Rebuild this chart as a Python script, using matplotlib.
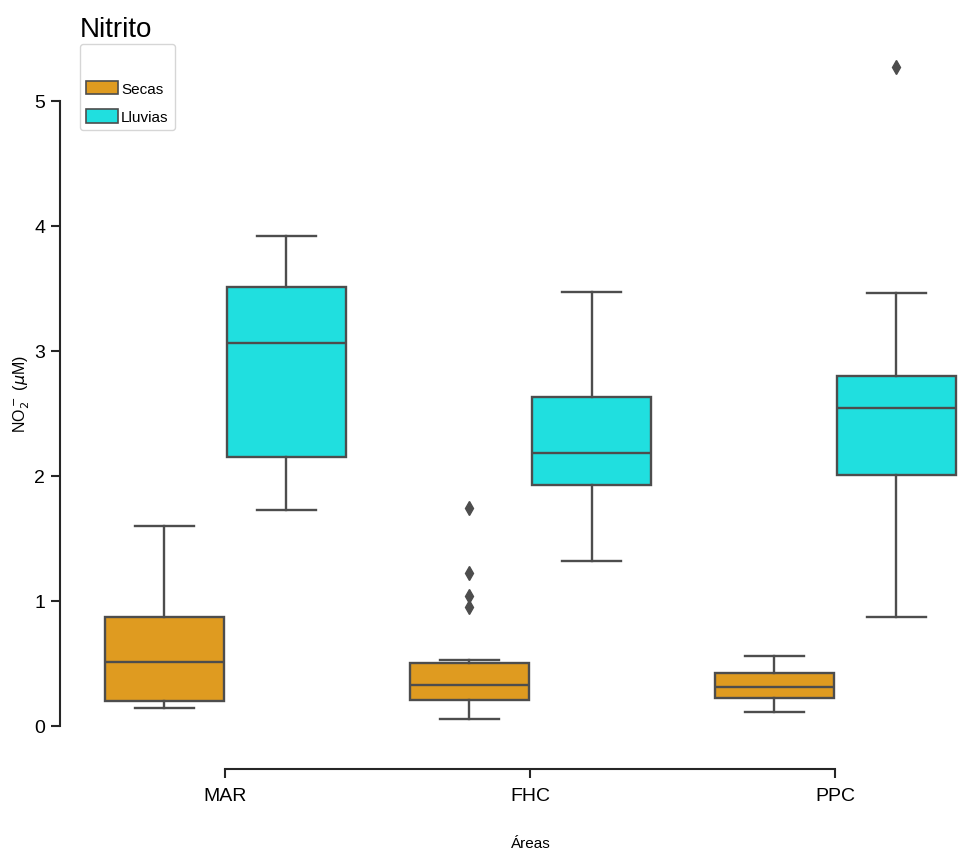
import matplotlib.pyplot as plt
from matplotlib.patches import Patch

plt.rcParams['font.family'] = ['Liberation Sans', 'DejaVu Sans']

areas = ['MAR', 'FHC', 'PPC']
temporadas = ['Secas', 'Lluvias']
colores = ['#DF9B20', '#20DFDF']
gris = '#4d4d4d'

# estadisticos de cada caja (NO2-, uM), orden: MAR, FHC, PPC
secas_q1 = [0.195, 0.21, 0.22]
secas_med = [0.51, 0.33, 0.31]
secas_q3 = [0.874, 0.50, 0.42]
secas_wlo = [0.142, 0.056, 0.11]
secas_whi = [1.60, 0.53, 0.56]
secas_out = [[], [0.95, 1.04, 1.22, 1.744], []]

lluvias_q1 = [2.15, 1.93, 2.01]
lluvias_med = [3.06, 2.18, 2.54]
lluvias_q3 = [3.51, 2.63, 2.80]
lluvias_wlo = [1.73, 1.32, 0.87]
lluvias_whi = [3.92, 3.47, 3.46]
lluvias_out = [[], [], [5.27]]

fig = plt.figure(figsize=(9.59, 8.53), dpi=100)
ax = fig.add_axes([73/959, 100/853, 915/959, 718.5/853])


def cajas(q1, med, q3, wlo, whi, out):
    return [dict(q1=a, med=b, q3=c, whislo=d, whishi=e, fliers=f)
            for a, b, c, d, e, f in zip(q1, med, q3, wlo, whi, out)]


series = [cajas(secas_q1, secas_med, secas_q3, secas_wlo, secas_whi, secas_out),
          cajas(lluvias_q1, lluvias_med, lluvias_q3, lluvias_wlo, lluvias_whi, lluvias_out)]

for k, (stats, col) in enumerate(zip(series, colores)):
    pos = [i - 0.2 + 0.4 * k for i in range(len(areas))]
    ax.bxp(stats, positions=pos, widths=0.392, capwidths=0.196,
           patch_artist=True, manage_ticks=False,
           boxprops=dict(facecolor=col, edgecolor=gris, linewidth=1.7),
           medianprops=dict(color=gris, linewidth=1.7),
           whiskerprops=dict(color=gris, linewidth=1.7),
           capprops=dict(color=gris, linewidth=1.7),
           flierprops=dict(marker='d', markerfacecolor=gris, markeredgecolor=gris,
                           markersize=7.5, linestyle='none'))

ax.set_xlim(-0.5, 2.5)
ax.set_ylim(-0.21, 5.54)
ax.set_xticks(range(len(areas)))
ax.set_xticklabels(areas)
ax.set_yticks(range(6))

# ejes separados y recortados
for s in ['top', 'right']:
    ax.spines[s].set_visible(False)
ax.spines['left'].set_position(('outward', 9.4))
ax.spines['bottom'].set_position(('outward', 12.2))
ax.spines['left'].set_bounds(0, 5)
ax.spines['bottom'].set_bounds(0, 2)
for s in ['left', 'bottom']:
    ax.spines[s].set_linewidth(1.5)
    ax.spines[s].set_color('#262626')
ax.tick_params(axis='both', length=6.5, width=1.5, color='#262626', labelsize=14)
ax.tick_params(axis='x', pad=6.5)
ax.tick_params(axis='y', pad=4)

ax.set_xlabel('Áreas', fontsize=11, labelpad=23)
ax.set_ylabel(r'NO$_2^-$ ($\mu$M)', fontsize=11.5, labelpad=2)

fig.text(80/959, 1 - 37/853, 'Nitrito', fontsize=20, va='baseline')

manijas = [Patch(facecolor=c, edgecolor=gris, linewidth=1.2) for c in colores]
ax.legend(manijas, temporadas, loc='upper left', bbox_to_anchor=(80/959, 1 - 45/853),
          bbox_transform=fig.transFigure, borderaxespad=0, fontsize=11,
          title=' ', title_fontsize=14, handlelength=2.1, handleheight=0.95,
          handletextpad=0.2, labelspacing=0.9)

fig.savefig('out.png', dpi=100)
